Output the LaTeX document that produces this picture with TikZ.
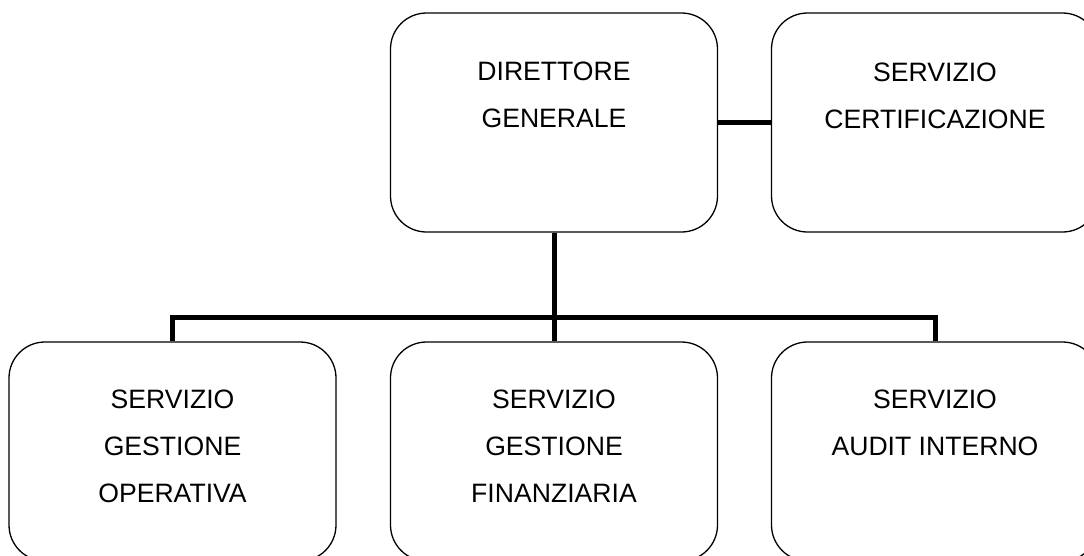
\documentclass[tikz,border=0pt]{standalone}
\usepackage{fontspec}
\setmainfont{Liberation Sans}
\begin{document}
\begin{tikzpicture}[x=1pt,y=-1pt,
  unitbox/.style={draw, line width=1.3pt, rounded corners=36pt,
    minimum width=327pt, minimum height=219pt, inner sep=0pt},
  unittext/.style={anchor=north, inner sep=0pt, align=center,
    font={\fontsize{26.6}{47}\selectfont}},
  link/.style={line width=5pt}]
\useasboundingbox (0,0) rectangle (1084,555);

% boxes
\node[unitbox] (dg)    at (554,122.5) {};
\node[unitbox] (cert)  at (935,122.5) {};
\node[unitbox] (gop)   at (172.5,451.5) {};
\node[unitbox] (gfin)  at (554,451.5) {};
\node[unitbox] (audit) at (935,451.5) {};

% labels
\node[unittext] (dgt)    at (554,62)   {DIRETTORE\\GENERALE};
\node[unittext] (certt)  at (935,63)   {SERVIZIO\\CERTIFICAZIONE};
\node[unittext] (gopt)   at (172.5,390) {SERVIZIO\\GESTIONE\\OPERATIVA};
\node[unittext] (gfint)  at (554,390)  {SERVIZIO\\GESTIONE\\FINANZIARIA};
\node[unittext] (auditt) at (935,390)  {SERVIZIO\\AUDIT INTERNO};

% connectors
\coordinate (bus) at (554,317);
\draw[link] (dg.east) -- (cert.west);
\draw[link] (dg.south) -- (bus);
\draw[link] (gop.north) -- (gop.north |- bus) -- (audit.north |- bus) -- (audit.north);
\draw[link] (gfin.north) -- (bus);
\end{tikzpicture}
\end{document}
